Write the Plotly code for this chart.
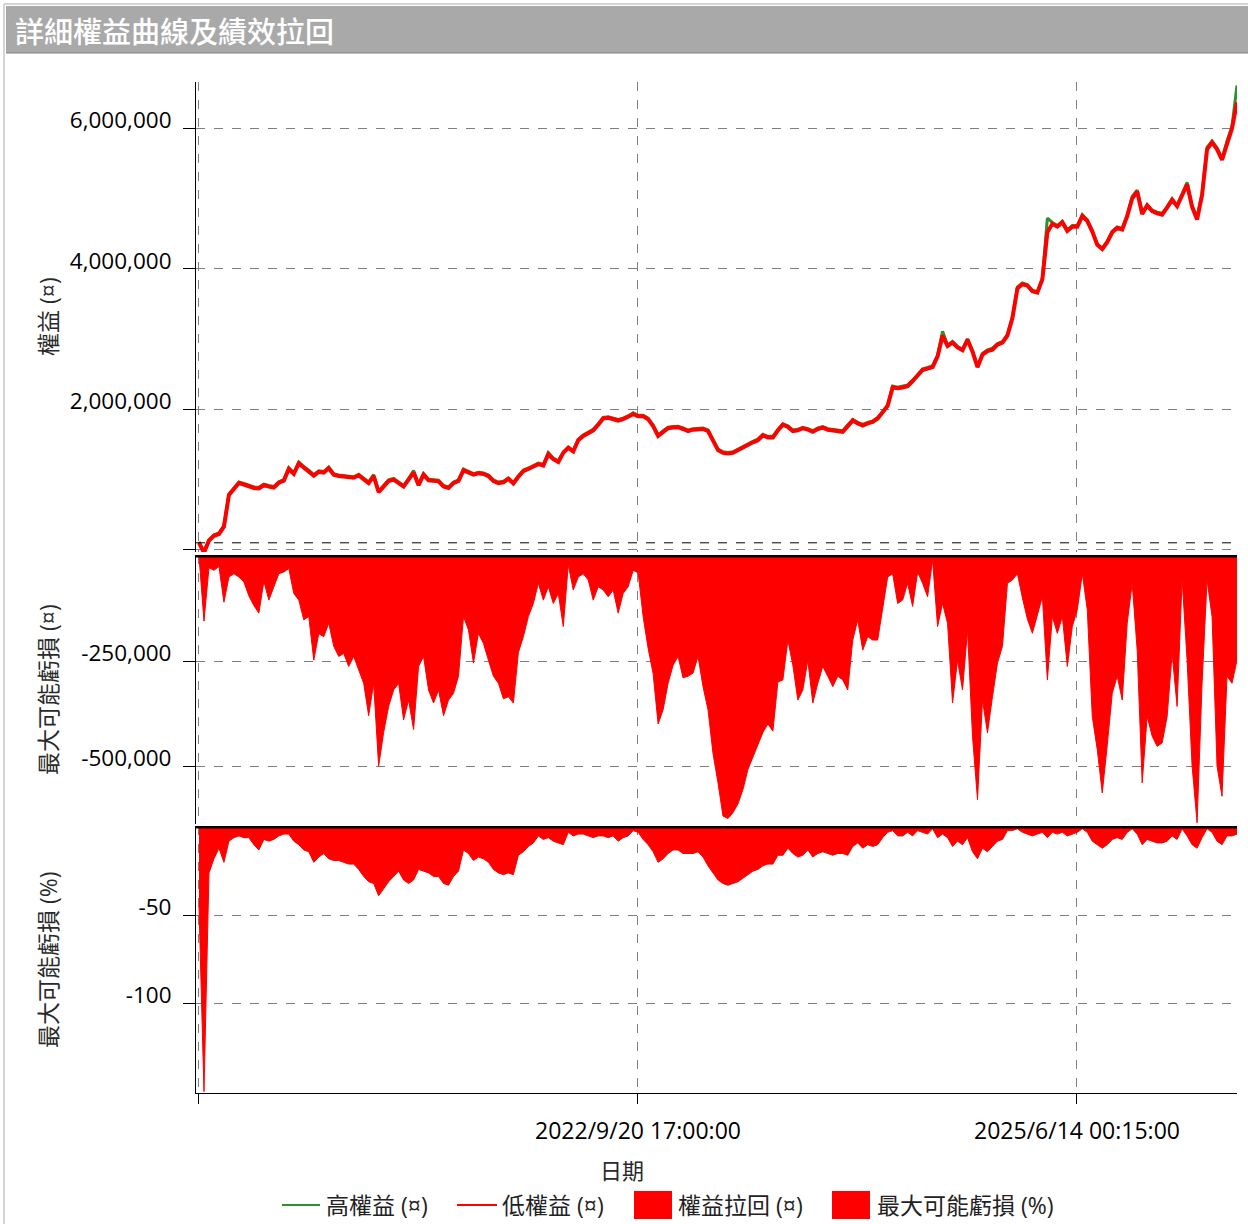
import pandas as pd
import plotly.graph_objects as go
from plotly.subplots import make_subplots

# ---------------- data ----------------
dates = pd.date_range("2019-12-28 09:50", "2026-06-12 12:00", periods=209)

equity_low_k = [
    100, -40, 130, 200, 225, 330, 780, 870, 950, 930,
    910, 880, 875, 920, 900, 885, 955, 985, 1150, 1080,
    1230, 1170, 1120, 1055, 1110, 1100, 1160, 1070, 1050, 1040,
    1035, 1025, 1060, 1000, 950, 1050, 820, 900, 980, 1000,
    950, 900, 1000, 1100, 920, 1070, 990, 980, 975, 900,
    880, 950, 980, 1130, 1100, 1070, 1090, 1080, 1050, 980,
    950, 960, 1010, 945, 1040, 1120, 1150, 1180, 1220, 1200,
    1360, 1290, 1250, 1380, 1450, 1400, 1560, 1620, 1660, 1700,
    1780, 1870, 1880, 1860, 1840, 1860, 1890, 1930, 1900, 1900,
    1860, 1760, 1620, 1680, 1730, 1740, 1745, 1720, 1690, 1710,
    1720, 1720, 1690, 1560, 1420, 1380, 1370, 1380, 1420, 1450,
    1500, 1530, 1560, 1630, 1600, 1600, 1700, 1780, 1750, 1690,
    1700, 1730, 1710, 1680, 1720, 1740, 1710, 1700, 1680, 1680,
    1760, 1840, 1800, 1770, 1800, 1820, 1870, 1950, 2050, 2310,
    2300, 2310, 2330, 2400, 2480, 2560, 2580, 2600, 2750, 3050,
    2900, 2950, 2880, 2840, 2990, 2820, 2600, 2780, 2830, 2850,
    2920, 2950, 3050, 3300, 3720, 3780, 3760, 3680, 3660, 3850,
    4520, 4640, 4600, 4660, 4540, 4600, 4600, 4750, 4680, 4530,
    4340, 4280, 4380, 4520, 4580, 4560, 4750, 5000, 5100, 4780,
    4900, 4820, 4790, 4770, 4870, 4980, 4890, 5050, 5200, 4880,
    4700, 5050, 5700, 5800, 5700, 5550, 5800, 6000, 6370,
]

equity_high_k = [
    115, -25, 145, 215, 240, 345, 795, 885, 965, 945,
    925, 895, 890, 935, 915, 900, 970, 1000, 1170, 1095,
    1250, 1185, 1135, 1070, 1125, 1115, 1180, 1085, 1065, 1055,
    1050, 1040, 1075, 1015, 965, 1070, 835, 915, 995, 1015,
    965, 915, 1015, 1130, 935, 1085, 1005, 995, 990, 915,
    895, 965, 995, 1150, 1115, 1085, 1105, 1095, 1065, 995,
    965, 975, 1025, 960, 1055, 1135, 1165, 1195, 1235, 1215,
    1385, 1305, 1265, 1395, 1465, 1415, 1575, 1635, 1675, 1715,
    1795, 1885, 1895, 1875, 1855, 1875, 1905, 1950, 1915, 1915,
    1875, 1775, 1635, 1695, 1745, 1755, 1760, 1735, 1705, 1725,
    1735, 1735, 1705, 1575, 1435, 1395, 1385, 1395, 1435, 1465,
    1515, 1545, 1575, 1645, 1615, 1615, 1715, 1795, 1765, 1705,
    1715, 1745, 1725, 1695, 1735, 1755, 1725, 1715, 1695, 1695,
    1775, 1855, 1815, 1785, 1815, 1835, 1885, 1965, 2065, 2330,
    2315, 2325, 2345, 2415, 2495, 2575, 2595, 2620, 2770, 3110,
    2915, 2965, 2895, 2855, 3005, 2835, 2615, 2795, 2845, 2870,
    2935, 2965, 3065, 3320, 3740, 3800, 3775, 3695, 3675, 3870,
    4720, 4660, 4615, 4680, 4555, 4615, 4615, 4770, 4695, 4545,
    4355, 4295, 4395, 4535, 4595, 4575, 4770, 5030, 5120, 4800,
    4915, 4835, 4805, 4790, 4885, 5000, 4905, 5070, 5230, 4900,
    4740, 5070, 5730, 5820, 5720, 5570, 5820, 6030, 6610,
]

drawdown_k = [
    0, -155, -28, -34, -25, -110, -50, -42, -50, -62,
    -95, -118, -136, -60, -105, -73, -42, -38, -30, -89,
    -105, -152, -144, -248, -185, -192, -160, -215, -239, -232,
    -263, -239, -270, -303, -380, -303, -500, -420, -358, -319,
    -303, -390, -343, -413, -263, -239, -319, -350, -319, -380,
    -343, -327, -286, -144, -176, -255, -184, -208, -248, -286,
    -303, -340, -335, -350, -230, -192, -144, -113, -65, -105,
    -73, -113, -89, -168, -21, -81, -50, -42, -57, -105,
    -73, -81, -97, -81, -136, -89, -73, -34, -40, -144,
    -220, -280, -400, -366, -303, -260, -239, -290, -286, -279,
    -239, -311, -366, -470, -540, -619, -625, -611, -590, -556,
    -508, -480, -450, -420, -400, -417, -300, -295, -200, -260,
    -343, -319, -248, -350, -303, -263, -286, -311, -286, -295,
    -319, -200, -152, -224, -192, -200, -200, -128, -50, -42,
    -113, -105, -65, -120, -38, -65, -97, -10, -168, -113,
    -160, -350, -248, -319, -176, -429, -580, -343, -421, -335,
    -255, -215, -65, -57, -42, -100, -150, -184, -140, -97,
    -295, -144, -184, -144, -263, -168, -128, -42, -128, -382,
    -461, -564, -450, -327, -286, -343, -160, -65, -224, -540,
    -382, -429, -453, -445, -382, -232, -358, -55, -248, -500,
    -635, -303, -57, -144, -500, -572, -286, -303, -248,
]

drawdown_pct = [
    -45, -150, -26, -18, -12, -20, -8, -6, -5, -6,
    -6, -10, -13, -7, -8, -7, -5, -4, -4, -8,
    -10, -13, -14, -20, -17, -15, -18, -19, -19, -20,
    -21, -21, -24, -28, -31, -32, -39, -35, -31, -28,
    -25, -30, -32, -30, -24, -25, -26, -28, -28, -32,
    -33, -28, -25, -13, -15, -19, -17, -18, -20, -24,
    -26, -27, -26, -27, -16, -14, -11, -9, -5, -7,
    -6, -8, -9, -10, -3, -5, -4, -4, -5, -6,
    -5, -5, -6, -5, -8, -6, -5, -2, -3, -7,
    -10, -14, -20, -18, -15, -13, -13, -15, -15, -15,
    -14, -17, -22, -26, -30, -32, -33, -32, -31, -29,
    -27, -25, -24, -22, -21, -21, -16, -16, -12, -15,
    -17, -16, -13, -17, -15, -14, -15, -16, -15, -15,
    -16, -11, -9, -12, -10, -11, -10, -6, -3, -2,
    -5, -5, -3, -5, -2, -3, -4, -1, -6, -4,
    -6, -11, -8, -10, -6, -14, -18, -12, -14, -11,
    -8, -7, -2, -2, -1, -3, -4, -5, -4, -3,
    -6, -3, -4, -3, -5, -4, -3, -1, -3, -8,
    -10, -12, -10, -7, -6, -7, -3, -1, -4, -10,
    -7, -8, -9, -9, -8, -5, -7, -1, -5, -10,
    -12, -6, -1, -3, -8, -10, -5, -5, -4,
]

initial_capital = 100000
x_tickvals = ["2019-12-27 12:00", "2022-09-20 17:00", "2025-06-14 00:15"]
x_ticktext = ["", "2022/9/20 17:00:00", "2025/6/14 00:15:00"]
x_range = ["2019-12-21 15:00", "2026-06-12 12:00"]

equity_low = [v * 1000 for v in equity_low_k]
equity_high = [v * 1000 for v in equity_high_k]
drawdown = [v * 1000 for v in drawdown_k]

# ---------------- figure ----------------
W, H = 1248, 1224
ML, MR, MT, MB = 196, 11, 82, 131
PW, PH = W - ML - MR, H - MT - MB


def px_x(px):
    return (px - ML) / PW


def px_y(py):
    return (H - MB - py) / PH


FONT = "Open Sans, Noto Sans CJK TC, sans-serif"
RED = "#ff0000"
GREEN = "#2f8f2f"
GRID = "#7f7f7f"

fig = make_subplots(rows=3, cols=1, shared_xaxes=True)

fig.add_trace(go.Scatter(x=dates, y=equity_high, mode="lines",
                         line=dict(color=GREEN, width=3), showlegend=False,
                         name="高權益 (¤)"), row=1, col=1)
fig.add_trace(go.Scatter(x=dates, y=equity_low, mode="lines",
                         line=dict(color=RED, width=4), showlegend=False,
                         name="低權益 (¤)"), row=1, col=1)
fig.add_trace(go.Scatter(x=dates, y=drawdown, mode="lines", fill="tozeroy",
                         fillcolor=RED, line=dict(color=RED, width=1),
                         showlegend=False, name="權益拉回 (¤)"), row=2, col=1)
fig.add_trace(go.Scatter(x=dates, y=drawdown_pct, mode="lines", fill="tozeroy",
                         fillcolor=RED, line=dict(color=RED, width=1),
                         showlegend=False, name="最大可能虧損 (%)"), row=3, col=1)

xcommon = dict(range=x_range, tickvals=x_tickvals, ticktext=x_ticktext,
               showgrid=True, gridcolor=GRID, griddash="dash", gridwidth=1,
               zeroline=False)
fig.update_layout(
    xaxis=dict(**xcommon, showticklabels=False, ticks=""),
    xaxis2=dict(**xcommon, showticklabels=False, ticks=""),
    xaxis3=dict(**xcommon, showticklabels=True, ticks="outside", ticklen=10,
                tickcolor="black", showline=True, linecolor="black", linewidth=1,
                tickfont=dict(family=FONT, size=23, color="black"),
                ticklabelstandoff=7),
)

ycommon = dict(showline=True, linecolor="black", linewidth=1, ticks="outside",
               ticklen=12, tickcolor="black", showgrid=True, gridcolor=GRID,
               griddash="dash", gridwidth=1, zeroline=False,
               tickfont=dict(family=FONT, size=22.5, color="black"),
               ticklabelstandoff=7, ticklabelshift=-8)
fig.update_layout(
    yaxis=dict(**ycommon, domain=[px_y(552), 1], range=[-31000, 6659000],
               tickvals=[0, 2000000, 4000000, 6000000],
               ticktext=["", "2,000,000", "4,000,000", "6,000,000"]),
    yaxis2=dict(**ycommon, domain=[px_y(824), px_y(555)], range=[-638000, 2400],
                tickvals=[-250000, -500000], ticktext=["-250,000", "-500,000"]),
    yaxis3=dict(**ycommon, domain=[0, px_y(826)], range=[-150.8, 0.6],
                tickvals=[-50, -100], ticktext=["-50", "-100"]),
)

shapes = []
# outer light border and title bar
shapes.append(dict(type="line", xref="paper", yref="paper", x0=px_x(4), x1=px_x(4),
                   y0=px_y(4), y1=px_y(1224), line=dict(color="#d4d4d4", width=2)))
shapes.append(dict(type="line", xref="paper", yref="paper", x0=px_x(4), x1=px_x(1248),
                   y0=px_y(4), y1=px_y(4), line=dict(color="#d4d4d4", width=2)))
shapes.append(dict(type="rect", xref="paper", yref="paper", x0=px_x(6), x1=px_x(1248),
                   y0=px_y(53), y1=px_y(6), fillcolor="#a9a9a9", line=dict(width=0)))
shapes.append(dict(type="line", xref="paper", yref="paper", x0=px_x(6), x1=px_x(1248),
                   y0=px_y(53), y1=px_y(53), line=dict(color="#808080", width=1)))
# initial capital dashed line in the equity panel
shapes.append(dict(type="line", xref="x domain", yref="y", x0=0, x1=1,
                   y0=initial_capital, y1=initial_capital,
                   line=dict(color="black", width=1, dash="dash")))
# thick zero lines at top of drawdown panels
shapes.append(dict(type="line", xref="x2 domain", yref="y2", x0=0, x1=1, y0=0, y1=0,
                   line=dict(color="black", width=3)))
shapes.append(dict(type="line", xref="x3 domain", yref="y3", x0=0, x1=1, y0=0, y1=0,
                   line=dict(color="black", width=3)))
# manual legend symbols
LY = 1205
shapes.append(dict(type="line", xref="paper", yref="paper", x0=px_x(282), x1=px_x(320),
                   y0=px_y(LY), y1=px_y(LY), line=dict(color=GREEN, width=2)))
shapes.append(dict(type="line", xref="paper", yref="paper", x0=px_x(457), x1=px_x(497),
                   y0=px_y(LY), y1=px_y(LY), line=dict(color=RED, width=2)))
shapes.append(dict(type="rect", xref="paper", yref="paper", x0=px_x(634), x1=px_x(672),
                   y0=px_y(1219), y1=px_y(1191), fillcolor=RED, line=dict(width=0)))
shapes.append(dict(type="rect", xref="paper", yref="paper", x0=px_x(832), x1=px_x(870),
                   y0=px_y(1219), y1=px_y(1191), fillcolor=RED, line=dict(width=0)))

annotations = []
annotations.append(dict(text="詳細權益曲線及績效拉回", xref="paper", yref="paper",
                        x=px_x(13), y=px_y(30), xanchor="left", yanchor="middle",
                        showarrow=False,
                        font=dict(family="Noto Sans CJK TC", size=29, color="white",
                                  weight=500)))
for txt, yc in [("權益 (¤)", 317), ("最大可能虧損 (¤)", 690), ("最大可能虧損 (%)", 960)]:
    annotations.append(dict(text=txt, xref="paper", yref="paper", x=px_x(48),
                            y=px_y(yc), xanchor="center", yanchor="middle",
                            textangle=-90, showarrow=False,
                            font=dict(family=FONT, size=23, color="#2a2a2a")))
annotations.append(dict(text="日期", xref="paper", yref="paper", x=px_x(622),
                        y=px_y(1170), xanchor="center", yanchor="middle",
                        showarrow=False, font=dict(family=FONT, size=22, color="#2a2a2a")))
for txt, xl in [("高權益 (¤)", 324), ("低權益 (¤)", 500),
                ("權益拉回 (¤)", 676), ("最大可能虧損 (%)", 875)]:
    annotations.append(dict(text=txt, xref="paper", yref="paper", x=px_x(xl),
                            y=px_y(LY), xanchor="left", yanchor="middle",
                            showarrow=False, font=dict(family=FONT, size=23, color="#222222")))

fig.update_layout(
    width=W, height=H,
    margin=dict(l=ML, r=MR, t=MT, b=MB, pad=0),
    paper_bgcolor="white", plot_bgcolor="white",
    showlegend=False,
    shapes=shapes, annotations=annotations,
    font=dict(family=FONT),
)

fig.write_html("out.html")
